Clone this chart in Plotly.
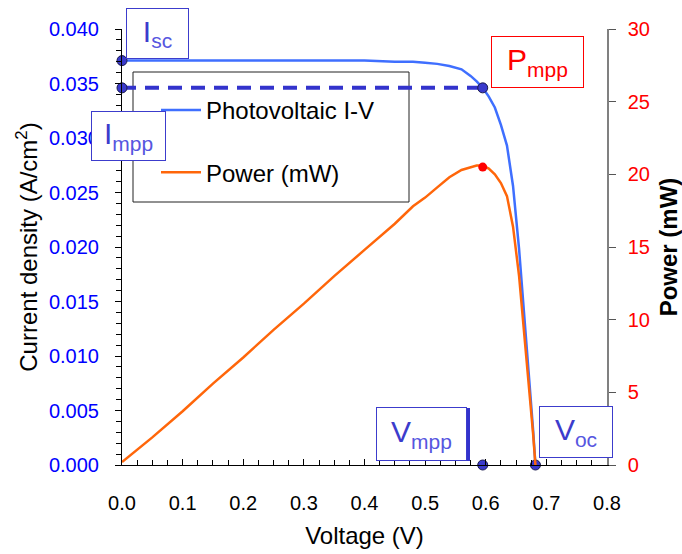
import plotly.graph_objects as go

# ---- data ----
voltage = [0.00, 0.05, 0.10, 0.15, 0.20, 0.25, 0.30, 0.35, 0.40, 0.45, 0.48, 0.50,
           0.52, 0.54, 0.56, 0.575, 0.585, 0.595, 0.605, 0.615, 0.625, 0.635, 0.645,
           0.655, 0.665, 0.672, 0.678, 0.682]
current = [0.0371, 0.0371, 0.0371, 0.0371, 0.0371, 0.0371, 0.0371, 0.0371, 0.0371, 0.0370,
           0.0370, 0.0369, 0.0368, 0.0366, 0.0363, 0.0357, 0.0352, 0.0346, 0.0338, 0.0328,
           0.0312, 0.0293, 0.0256, 0.0198, 0.0128, 0.0075, 0.0033, 0.0]
power = [0.2, 1.9, 3.7, 5.6, 7.4, 9.3, 11.1, 13.0, 14.8, 16.6, 17.8, 18.4,
         19.1, 19.8, 20.3, 20.5, 20.6, 20.6, 20.4, 20.0, 19.4, 18.5, 16.4,
         13.0, 8.5, 5.0, 2.2, 0.0]

isc = 0.0371
impp = 0.0346
vmpp = 0.595
voc = 0.682
pmpp = 20.5

x_ticks = [0.0, 0.1, 0.2, 0.3, 0.4, 0.5, 0.6, 0.7, 0.8]
y_ticks = [0.000, 0.005, 0.010, 0.015, 0.020, 0.025, 0.030, 0.035, 0.040]
y2_ticks = [0, 5, 10, 15, 20, 25, 30]

FONT = "Arial, 'Liberation Sans', sans-serif"
BLUE_LINE = "#3f6fff"
ORANGE = "#ff660a"
MARK_BLUE = "#3a3acc"
ANN_BLUE = "#3c3ccc"
SUB_BLUE = "#5656e0"

fig = go.Figure()

fig.add_trace(go.Scatter(x=voltage, y=current, mode="lines", name="Photovoltaic I-V",
                         line=dict(color=BLUE_LINE, width=2.5), legendgroup="a",
                         cliponaxis=False))
fig.add_trace(go.Scatter(x=voltage, y=power, mode="lines", name="Power (mW)",
                         line=dict(color=ORANGE, width=2.5), yaxis="y2", legendgroup="b",
                         cliponaxis=False))
# dashed Impp line
fig.add_trace(go.Scatter(x=[0, vmpp], y=[impp, impp], mode="lines", showlegend=False,
                         line=dict(color="#3333cc", width=4, dash="14px,9px"),
                         cliponaxis=False))
# marker points
fig.add_trace(go.Scatter(x=[0, 0, vmpp, vmpp, voc], y=[isc, impp, impp, 0, 0],
                         mode="markers", showlegend=False, cliponaxis=False,
                         marker=dict(size=10, color=MARK_BLUE,
                                     line=dict(color="#1a1a4d", width=1))))
fig.add_trace(go.Scatter(x=[vmpp], y=[pmpp], mode="markers", showlegend=False,
                         yaxis="y2", cliponaxis=False,
                         marker=dict(size=9, color="#ff0000")))

L, R, T, B = 122, 75, 29, 89
W, H = 682, 554
pw, ph = W - L - R, H - T - B


def px(xp):
    return (xp - L) / pw


def py(yp):
    return (H - B - yp) / ph


# legend frame
fig.add_shape(type="rect", xref="paper", yref="paper",
              x0=px(133), x1=px(409), y0=py(202), y1=py(72),
              line=dict(color="#222222", width=1), fillcolor="white", layer="below")


def box(main, sub, cx, cy, w, h, color, subcolor):
    fig.add_annotation(text=f"{main}<sub><span style='color:{subcolor}'>{sub}</span></sub>",
                       xref="paper", yref="paper", x=px(cx), y=py(cy),
                       xanchor="center", yanchor="middle", showarrow=False,
                       width=w, height=h, borderpad=0, borderwidth=1,
                       bordercolor=color, bgcolor="white",
                       font=dict(family=FONT, size=30, color=color))


box("I", "sc", 157.5, 33.5, 61, 49, ANN_BLUE, SUB_BLUE)
box("I", "mpp", 128.5, 136, 73, 48, ANN_BLUE, SUB_BLUE)
box("P", "mpp", 537.5, 62, 91, 50, "#ff0000", "#ff0000")
box("V", "mpp", 421.5, 434, 89, 52, ANN_BLUE, SUB_BLUE)
box("V", "oc", 576, 432, 72, 50, ANN_BLUE, SUB_BLUE)

# thicker right edge of the Vmpp box
fig.add_shape(type="line", xref="paper", yref="paper",
              x0=px(468.5), x1=px(468.5), y0=py(461), y1=py(408),
              line=dict(color="#3333cc", width=3))

fig.update_layout(
    width=W, height=H,
    margin=dict(l=L, r=R, t=T, b=B, autoexpand=False),
    paper_bgcolor="white", plot_bgcolor="white",
    font=dict(family=FONT, size=20, color="black"),
    showlegend=True,
    legend=dict(x=px(156), y=py(88), xanchor="left", yanchor="top",
                bgcolor="rgba(0,0,0,0)", borderwidth=0,
                font=dict(family=FONT, size=24, color="black"),
                traceorder="grouped", tracegroupgap=28, itemwidth=40),
    xaxis=dict(range=[0, 0.8], tickvals=x_ticks, ticktext=[f"{v:.1f}" for v in x_ticks],
               showgrid=False, zeroline=False, showline=True, linecolor="black", linewidth=1,
               ticks="inside", ticklen=6, tickcolor="black",
               minor=dict(dtick=0.025, tick0=0, ticks="inside", ticklen=5, tickcolor="black"),
               tickfont=dict(size=20, color="black"), ticklabelstandoff=20,
               title=dict(text="Voltage (V)", font=dict(size=24, color="black"), standoff=14)),
    yaxis=dict(range=[0, 0.04], tickvals=y_ticks, ticktext=[f"{v:.3f}" for v in y_ticks],
               showgrid=False, zeroline=False, showline=True, linecolor="black", linewidth=1,
               ticks="outside", ticklen=6, tickcolor="black",
               minor=dict(dtick=0.001, tick0=0, ticks="outside", ticklen=5, tickcolor="black"),
               tickfont=dict(size=20, color="#0000ff"), ticklabelstandoff=12,
               title=dict(text="Current density (A/cm<sup>2</sup>)",
                          font=dict(size=24, color="black"), standoff=4)),
    yaxis2=dict(range=[0, 30], tickvals=y2_ticks, overlaying="y", side="right",
                showgrid=False, zeroline=False, showline=True, linecolor="#808080", linewidth=1.5,
                ticks="outside", ticklen=7, tickcolor="#555555",
                tickfont=dict(size=20, color="#ff0000"), ticklabelstandoff=8,
                title=dict(text="<b>Power (mW)</b>", font=dict(size=24, color="black"),
                           standoff=12)),
)

fig.write_html("out.html")
